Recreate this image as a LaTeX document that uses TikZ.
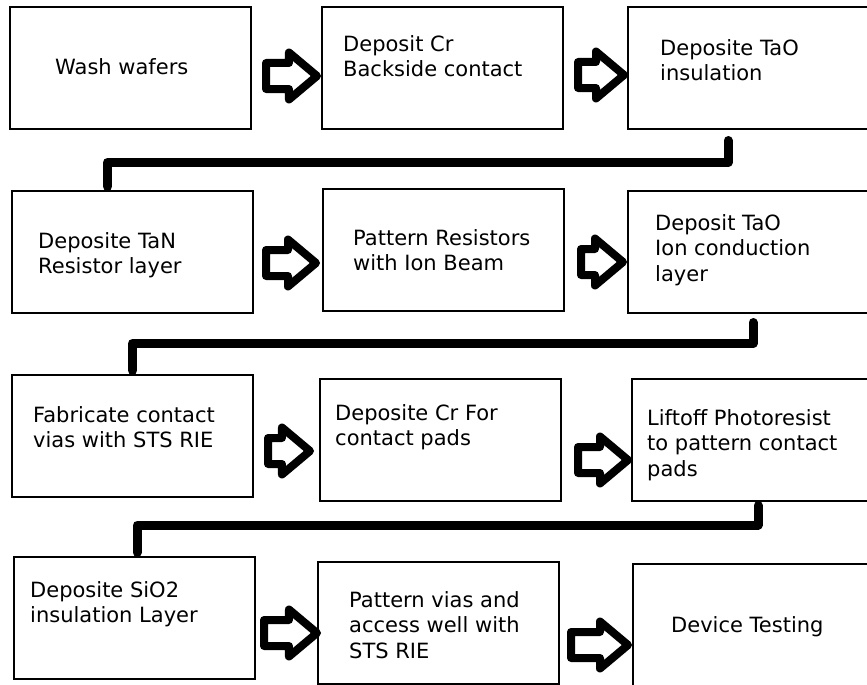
\documentclass[tikz,border=0pt]{standalone}
\usepackage{fontspec}
\setmainfont{DejaVu Sans}
\usetikzlibrary{positioning,shapes.arrows}
\tikzset{
  stepbox/.style={draw, line width=1.3pt, minimum width=241pt, minimum height=122pt,
    anchor=north west, inner sep=0pt, outer sep=0pt},
  steptext/.style={align=left, inner sep=0pt, anchor=north west,
    font=\fontsize{21}{25.5}\selectfont},
  fatarrow/.style={single arrow, draw, fill=white, line width=8pt, line join=round,
    inner sep=0pt, inner ysep=9pt, single arrow head extend=10.5pt,
    single arrow tip angle=80, anchor=west, minimum height=#1},
  fatarrow/.default=51pt,
  link/.style={line width=9pt, line cap=round, line join=round, shorten >=4.5pt}
}
\begin{document}
\begin{tikzpicture}[x=1pt, y=-1pt]
      \useasboundingbox (0,0) rectangle (867,685);
      % Row 1
      \node[stepbox] (A) at (10,7) {};
      \node[stepbox] (B) at (322,7) {};
      \node[stepbox] (C) at (628,7) {};
      % Row 2
      \node[stepbox] (D) at (12,191) {};
      \node[stepbox] (E) at (323,189) {};
      \node[stepbox] (F) at (628,191) {};
      % Row 3
      \node[stepbox] (G) at (12,375) {};
      \node[stepbox] (H) at (320,379) {};
      \node[stepbox] (I) at (632,379) {};
      % Row 4
      \node[stepbox] (J) at (14,557) {};
      \node[stepbox] (K) at (318,562) {};
      \node[stepbox] (L) at (633,564) {};
      % Step texts
      \node[steptext, below right=51pt and 45pt of A.north west] (tA) {Wash wafers};
      \node[steptext, below right=28pt and 21pt of B.north west] (tB) {Deposit Cr\\Backside contact};
      \node[steptext, below right=32pt and 32pt of C.north west] (tC) {Deposite TaO\\insulation};
      \node[steptext, below right=41pt and 26pt of D.north west] (tD) {Deposite TaN\\Resistor layer};
      \node[steptext, below right=40pt and 30pt of E.north west] (tE) {Pattern Resistors\\with Ion Beam};
      \node[steptext, below right=23pt and 27pt of F.north west] (tF) {Deposit TaO\\Ion conduction\\layer};
      \node[steptext, below right=31pt and 21pt of G.north west] (tG) {Fabricate contact\\vias with STS RIE};
      \node[steptext, below right=25pt and 15pt of H.north west] (tH) {Deposite Cr For\\contact pads};
      \node[steptext, below right=30pt and 15pt of I.north west] (tI) {Liftoff Photoresist\\to pattern contact\\pads};
      \node[steptext, below right=24pt and 16pt of J.north west] (tJ) {Deposite SiO2\\insulation Layer};
      \node[steptext, below right=29pt and 31pt of K.north west] (tK) {Pattern vias and\\access well with\\STS RIE};
      \node[steptext, below right=52pt and 38pt of L.north west] (tL) {Device Testing};
      % Block arrows
      \node[fatarrow] (ab) at (262,76) {};
      \node[fatarrow=46pt] (bc) at (574,75) {};
      \node[fatarrow=50pt] (de) at (262,263) {};
      \node[fatarrow=42pt] (ef) at (577,262) {};
      \node[fatarrow=42pt] (gh) at (264,451) {};
      \node[fatarrow=50pt] (hi) at (574,460) {};
      \node[fatarrow=53pt] (jk) at (260,633) {};
      \node[fatarrow=57pt] (kl) at (567,645) {};
      % Row links
      \draw[link] ([xshift=-20.5pt,yshift=-11.5pt]C.south) -- ++(0,22) -| ([xshift=-25pt]D.north);
      \draw[link] ([xshift=4.5pt,yshift=-9.5pt]F.south) -- ++(0,21) -| (G.north);
      \draw[link] ([xshift=5.5pt,yshift=-4.5pt]I.south) -- ++(0,19.5) -| ([xshift=2.5pt]J.north);
\end{tikzpicture}
\end{document}
